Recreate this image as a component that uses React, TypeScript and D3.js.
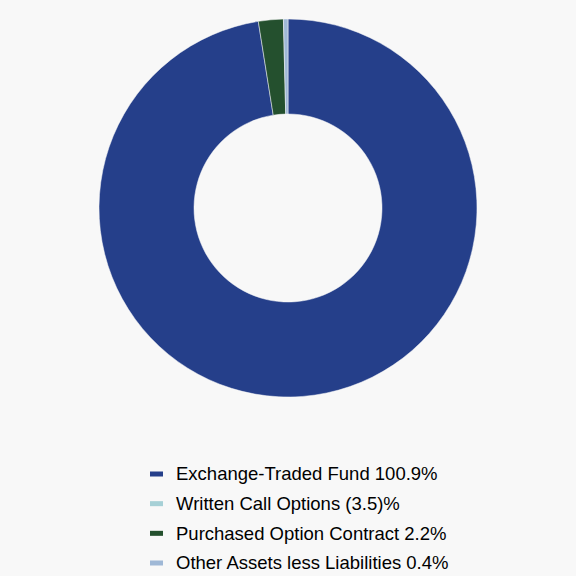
import React from "react";
import * as d3 from "d3";

const categories = ["Exchange-Traded Fund", "Written Call Options", "Purchased Option Contract", "Other Assets less Liabilities"];
const values = [100.9, -3.5, 2.2, 0.4];
const labels = ["Exchange-Traded Fund 100.9%", "Written Call Options (3.5)%", "Purchased Option Contract 2.2%", "Other Assets less Liabilities 0.4%"];
const colors = ["#253f8a", "#a6d0d6", "#24502e", "#9fb8d6"];

export default function App() {
  const W = 576, H = 576;
  const cx = 288, cy = 208, outerR = 189, innerR = 94;
  const pie = d3.pie<number>().sort(null).value((d) => Math.max(0, d));
  const arcs = pie(values);
  const arc = d3.arc<d3.PieArcDatum<number>>().innerRadius(innerR).outerRadius(outerR);
  const legendY = d3.scaleLinear().domain([0, 3]).range([474, 563]);
  return (
    <svg width={W} height={H} style={{ position: "absolute", left: 0, top: 0, background: "#f8f8f8" }}>
      <rect width={W} height={H} fill="#f8f8f8" />
      <g transform={`translate(${cx},${cy})`}>
        {arcs.map((a, i) =>
          a.endAngle - a.startAngle > 0 ? (
            <path key={i} d={arc(a) || ""} fill={colors[i]} stroke="#f8f8f8" strokeWidth={0.5} />
          ) : null
        )}
      </g>
      {categories.map((c, i) => (
        <g key={c} transform={`translate(0,${legendY(i)})`}>
          <rect x={150} y={-2.5} width={13} height={5} fill={colors[i]} />
          <text x={176} y={0} dy="0.35em" fontFamily="Liberation Sans, Arial, sans-serif" fontSize={18.5} fill="#000">
            {labels[i]}
          </text>
        </g>
      ))}
    </svg>
  );
}
